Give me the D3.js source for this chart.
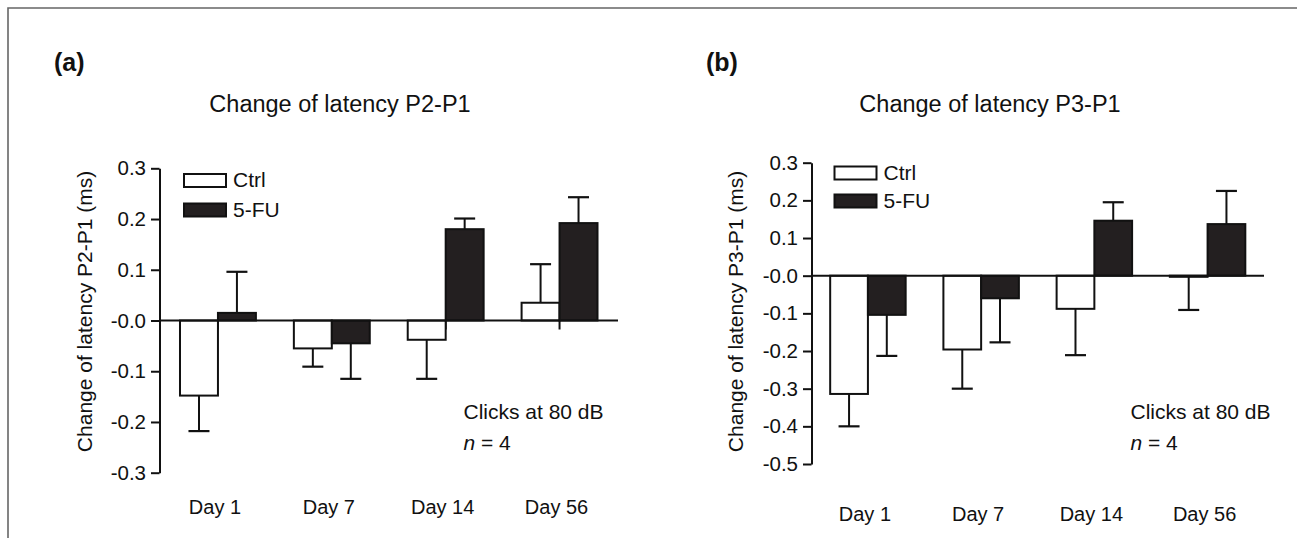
<!DOCTYPE html>
<html>
<head>
<meta charset="utf-8">
<script src="https://cdn.jsdelivr.net/npm/d3@7"></script>
<style>
  body { margin: 0; background: #fff; }
  svg text { font-family: "Liberation Sans", Arial, Helvetica, sans-serif; fill: #111; }
</style>
</head>
<body>
<div id="vis"></div>
<script>
// values
let days = ['Day 1', 'Day 7', 'Day 14', 'Day 56'];
let seriesNames = ['Ctrl', '5-FU'];

let p2Ctrl    = [-0.148, -0.055, -0.038, 0.035];
let p2CtrlErr = [0.070, 0.036, 0.077, 0.076];
let p2Fu      = [0.015, -0.045, 0.180, 0.192];
let p2FuErr   = [0.081, 0.070, 0.021, 0.051];

let p3Ctrl    = [-0.314, -0.196, -0.088, -0.003];
let p3CtrlErr = [0.086, 0.104, 0.123, 0.088];
let p3Fu      = [-0.104, -0.060, 0.146, 0.137];
let p3FuErr   = [0.109, 0.117, 0.049, 0.088];

let yTicksA = [0.3, 0.2, 0.1, 0, -0.1, -0.2, -0.3];
let yTicksB = [0.3, 0.2, 0.1, 0, -0.1, -0.2, -0.3, -0.4, -0.5];

let width = 1297, height = 538;
let barFill = ['#ffffff', '#231f20'];

let svg = d3.select('#vis')
  .append('svg')
    .attr('width', width)
    .attr('height', height)
    .attr('viewBox', [0, 0, width, height].join(' '));

// outer frame (only top and left edges show)
svg.append('path')
    .attr('d', 'M8,' + height + 'V8H' + width)
    .attr('fill', 'none')
    .attr('stroke', '#666')
    .attr('stroke-width', 1.6);

function fmtTick(d) {
  // the original prints the zero as "-0.0" and uses a plain hyphen
  return d === 0 ? '-0.0' : d3.format('.1f')(d).replace('\u2212', '-');
}

function drawPanel(p) {
  let g = svg.append('g');

  let x = d3.scaleBand()
    .domain(days)
    .range([p.left, p.right])
    .paddingInner(1 / 3)
    .paddingOuter(p.outer);

  let sub = d3.scaleBand()
    .domain(seriesNames)
    .range([0, x.bandwidth()]);

  let y = d3.scaleLinear()
    .domain(p.yDomain)
    .range([p.bottom, p.top]);

  // panel letter and title
  g.append('text')
      .attr('x', p.letterX)
      .attr('y', 71)
      .style('font-size', '25px')
      .style('font-weight', 'bold')
      .text(p.letter);

  g.append('text')
      .attr('x', p.titleX)
      .attr('y', 112)
      .attr('text-anchor', 'middle')
      .style('font-size', '23.5px')
      .text(p.title);

  // y axis
  let yAxis = g.append('g')
      .attr('transform', 'translate(' + p.left + ',0)')
      .call(d3.axisLeft(y)
        .tickValues(p.yTicks)
        .tickFormat(fmtTick)
        .tickSize(8.5)
        .tickSizeOuter(0)
        .tickPadding(5));
  yAxis.selectAll('path, line').attr('stroke', '#111').attr('stroke-width', 2);
  yAxis.selectAll('text').style('font-size', '20.5px').attr('fill', '#111')
    .style('font-family', '"Liberation Sans", Arial, sans-serif');

  g.append('text')
      .attr('transform', 'translate(' + p.yLabelX + ',311.5) rotate(-90)')
      .attr('text-anchor', 'middle')
      .style('font-size', '21px')
      .text(p.yLabel);

  // small ticks under the zero line at each group centre
  g.selectAll('.xtick')
    .data(days)
    .join('line')
      .attr('x1', d => x(d) + x.bandwidth() / 2)
      .attr('x2', d => x(d) + x.bandwidth() / 2)
      .attr('y1', y(0))
      .attr('y2', y(0) + p.xTickLen)
      .attr('stroke', '#111')
      .attr('stroke-width', 2);

  let rows = [];
  days.forEach((d, i) => {
    rows.push({ day: d, s: 0, v: p.ctrl[i], e: p.ctrlErr[i] });
    rows.push({ day: d, s: 1, v: p.fu[i], e: p.fuErr[i] });
  });

  // error bars (one-sided, away from zero)
  let errEnd = r => r.v + (r.v < 0 ? -r.e : r.e);
  let cx = r => x(r.day) + sub(seriesNames[r.s]) + sub.bandwidth() / 2;

  g.selectAll('.err')
    .data(rows)
    .join('line')
      .attr('x1', cx)
      .attr('x2', cx)
      .attr('y1', r => y(r.v))
      .attr('y2', r => y(errEnd(r)))
      .attr('stroke', '#111')
      .attr('stroke-width', 2);

  g.selectAll('.cap')
    .data(rows)
    .join('line')
      .attr('x1', r => cx(r) - 10.5)
      .attr('x2', r => cx(r) + 10.5)
      .attr('y1', r => y(errEnd(r)))
      .attr('y2', r => y(errEnd(r)))
      .attr('stroke', '#111')
      .attr('stroke-width', 2.2);

  g.selectAll('.bar')
    .data(rows)
    .join('rect')
      .attr('x', r => x(r.day) + sub(seriesNames[r.s]))
      .attr('y', r => y(Math.max(0, r.v)))
      .attr('width', sub.bandwidth())
      .attr('height', r => Math.abs(y(r.v) - y(0)))
      .attr('fill', r => barFill[r.s])
      .attr('stroke', '#111')
      .attr('stroke-width', 2);

  // zero line
  g.append('line')
      .attr('x1', p.left)
      .attr('x2', p.right)
      .attr('y1', y(0))
      .attr('y2', y(0))
      .attr('stroke', '#111')
      .attr('stroke-width', 2);

  // category labels
  g.selectAll('.day')
    .data(days)
    .join('text')
      .attr('x', d => x(d) + x.bandwidth() / 2 - 3)
      .attr('y', p.dayY)
      .attr('text-anchor', 'middle')
      .style('font-size', '20px')
      .text(d => d);

  // legend
  seriesNames.forEach((s, i) => {
    g.append('rect')
        .attr('x', p.legX)
        .attr('y', p.legY[i])
        .attr('width', 42)
        .attr('height', 13)
        .attr('fill', barFill[i])
        .attr('stroke', '#111')
        .attr('stroke-width', 2);
    g.append('text')
        .attr('x', p.legX + 49)
        .attr('y', p.legY[i] + 13)
        .style('font-size', '21px')
        .text(s);
  });

  // note
  g.append('text')
      .attr('x', p.noteX)
      .attr('y', 419)
      .style('font-size', '21px')
      .text('Clicks at 80 dB');

  let n = g.append('text')
      .attr('x', p.noteX)
      .attr('y', 450)
      .style('font-size', '21px');
  n.append('tspan').style('font-style', 'italic').text('n');
  n.append('tspan').text(' = 4');
}

drawPanel({
  letter: '(a)', letterX: 54,
  title: 'Change of latency P2-P1', titleX: 340,
  yLabel: 'Change of latency P2-P1 (ms)', yLabelX: 92,
  left: 159.5, right: 618, outer: 0.18,
  top: 168.3, bottom: 472.7, yDomain: [-0.3, 0.3], yTicks: yTicksA,
  ctrl: p2Ctrl, ctrlErr: p2CtrlErr, fu: p2Fu, fuErr: p2FuErr,
  xTickLen: 9, dayY: 514,
  legX: 184, legY: [174, 203.5],
  noteX: 463.5
});

drawPanel({
  letter: '(b)', letterX: 706,
  title: 'Change of latency P3-P1', titleX: 990,
  yLabel: 'Change of latency P3-P1 (ms)', yLabelX: 743,
  left: 811.5, right: 1264, outer: 0.165,
  top: 162.7, bottom: 464, yDomain: [-0.5, 0.3], yTicks: yTicksB,
  ctrl: p3Ctrl, ctrlErr: p3CtrlErr, fu: p3Fu, fuErr: p3FuErr,
  xTickLen: 0, dayY: 521,
  legX: 834.5, legY: [166.5, 194.5],
  noteX: 1130.5
});
</script>
</body>
</html>
